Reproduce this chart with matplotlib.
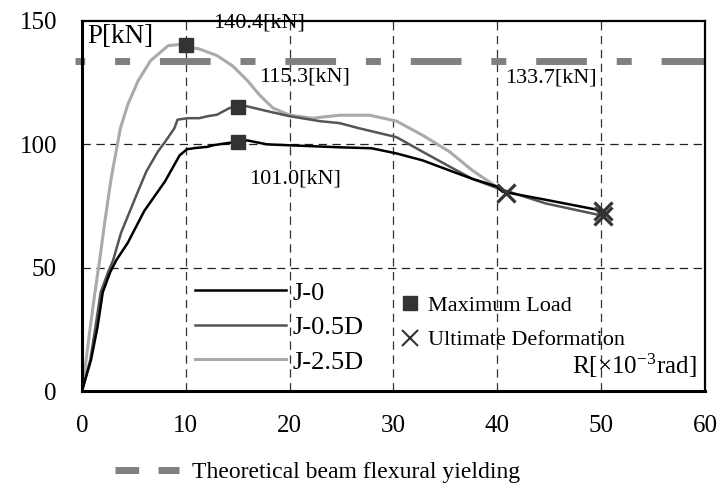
import matplotlib
matplotlib.use('Agg')
import matplotlib.pyplot as plt
from matplotlib.lines import Line2D

plt.rcParams['font.family'] = ['Liberation Serif', 'DejaVu Serif']
plt.rcParams['mathtext.fontset'] = 'stix'
plt.rcParams['lines.scale_dashes'] = False

# drift angle R [x10^-3 rad] and load P [kN]
r_j0 = [0, 0.87, 1.5, 2.0, 2.7, 3.3, 4.4, 6.0, 8.0, 9.4, 10.1, 10.9, 12.1, 12.6, 14.0, 15.0,
        15.9, 17.8, 20.0, 24.8, 27.9, 30.3, 32.8, 35.4, 37.6, 39.9, 40.5, 44.7, 50.2]
p_j0 = [0, 12.6, 26, 40, 48, 53, 60, 73, 85, 95.5, 98, 98.5, 99, 99.6, 100.5, 101.0,
        101.6, 100, 99.6, 98.8, 98.4, 96.3, 93.5, 89.4, 86, 83, 80.8, 77.5, 73]

r_j05 = [0, 0.8, 1.3, 1.8, 2.5, 3.0, 3.75, 5.4, 6.2, 7.3, 8.0, 8.9, 9.2, 10.2, 11.3, 12.1,
         13.0, 14.2, 15.0, 15.5, 17.8, 20.0, 22.9, 24.8, 26.7, 30.3, 32.8, 35.4, 37.6, 39.9,
         44.7, 50.2]
p_j05 = [0, 12.6, 26, 40, 48, 53, 64, 81, 89, 97, 101, 106.5, 110, 110.6, 110.6, 111.4,
         112, 114.7, 115.3, 115.8, 113.5, 111.4, 109.4, 108.6, 106.5, 102.9, 97, 91, 86, 82.4,
         76, 71]

r_j25 = [0, 0.4, 0.8, 1.25, 1.7, 2.2, 2.8, 3.5, 3.7, 4.4, 5.4, 6.6, 8.3, 9.2, 10.0, 10.7,
         11.2, 13.0, 14.5, 15.9, 17.1, 18.4, 20.0, 22.2, 24.8, 27.7, 30.3, 32.8, 35.4, 37.6,
         39.5, 40.8]
p_j25 = [0, 12.6, 26, 40, 53, 68.6, 86, 102, 106.5, 116, 125.7, 133.9, 140, 140.4, 140.4, 139,
         138.8, 136, 131.8, 126, 120, 114.7, 111.8, 110.6, 111.8, 111.8, 109.4, 103.7, 97, 89.4,
         84, 80.4]

names = ['J-0', 'J-0.5D', 'J-2.5D']
max_r = [15, 15, 10]
max_p = [101.0, 115.3, 140.4]
ult_r = [50.2, 50.2, 40.8]
ult_p = [73, 71, 80.4]
p_theory = 133.7

fig = plt.figure(figsize=(7.28, 4.94), dpi=100)
ax = fig.add_axes([0.1126, 0.2085, 0.8558, 0.749])

l0, = ax.plot(r_j0, p_j0, color='black', lw=1.8, zorder=4)
l1, = ax.plot(r_j05, p_j05, color='#555555', lw=1.8, zorder=3)
l2, = ax.plot(r_j25, p_j25, color='#aaaaaa', lw=2.2, zorder=2)

# theoretical beam flexural yielding
ax.plot([-0.7, 60], [p_theory, p_theory], color='#808080', lw=5,
        linestyle=(29.5, (36.5, 21.5, 10.8, 21.5)), solid_capstyle='butt',
        dash_capstyle='butt', clip_on=False, zorder=1)

ax.plot(max_r, max_p, ls='none', marker='s', ms=10.5, color='#333333', zorder=6)
ax.plot(ult_r, ult_p, ls='none', marker='x', ms=13, mew=2.3, color='#333333', zorder=6)

ax.text(17.1, 149.0, f'{max_p[2]:.1f}[kN]', fontsize=16, ha='center', va='center')
ax.text(21.4, 127.2, f'{max_p[1]:.1f}[kN]', fontsize=16, ha='center', va='center')
ax.text(20.5, 86.0, f'{max_p[0]:.1f}[kN]', fontsize=16, ha='center', va='center')
ax.text(45.2, 126.8, f'{p_theory:.1f}[kN]', fontsize=16, ha='center', va='center')
ax.text(0.55, 143.6, 'P[kN]', fontsize=19.5, ha='left', va='center')
ax.text(59.2, 10.4, 'R[×10$^{\\mathregular{-3}}$rad]', fontsize=18, ha='right', va='center')

ax.set_xlim(0, 60)
ax.set_ylim(0, 150)
ax.set_xticks(range(0, 61, 10))
ax.set_yticks([0, 50, 100, 150])
ax.tick_params(axis='both', length=0, labelsize=18)
ax.tick_params(axis='x', pad=17)
ax.tick_params(axis='y', pad=18)

for x in range(10, 60, 10):
    ax.axvline(x, color='#333333', lw=0.9, linestyle=(0, (6, 4)), zorder=0)
for y in [50, 100]:
    ax.axhline(y, color='#222222', lw=0.9, linestyle=(0, (6, 4)), zorder=0)

ax.spines['left'].set_linewidth(2.2)
ax.spines['bottom'].set_linewidth(2.2)
ax.spines['top'].set_linewidth(1.6)
ax.spines['right'].set_linewidth(1.6)

leg1 = ax.legend([l0, l1, l2], names, loc='upper left', bbox_to_anchor=(0.181, 0.297),
                 frameon=False, fontsize=19, handlelength=3.45, handletextpad=0.25,
                 labelspacing=0.42, borderpad=0, borderaxespad=0)
ax.add_artist(leg1)

h_max = Line2D([], [], ls='none', marker='s', ms=10, color='#333333')
h_ult = Line2D([], [], ls='none', marker='x', ms=12, mew=1.5, color='#333333')
ax.legend([h_max, h_ult], ['Maximum Load', 'Ultimate Deformation'], loc='upper left',
          bbox_to_anchor=(0.509, 0.258), frameon=False, fontsize=16, handlelength=1.0,
          handletextpad=0.3, labelspacing=0.62, borderpad=0, borderaxespad=0)

h_th = Line2D([], [], color='#808080', lw=5, linestyle=(0, (17, 14)), dash_capstyle='butt')
fig.legend([h_th], ['Theoretical beam flexural yielding'], loc='center left',
           bbox_to_anchor=(115 / 728, 1 - 472 / 494), frameon=False, fontsize=17,
           handlelength=2.7, handletextpad=0.55, borderpad=0, borderaxespad=0)

fig.savefig('out.png', dpi=100)
